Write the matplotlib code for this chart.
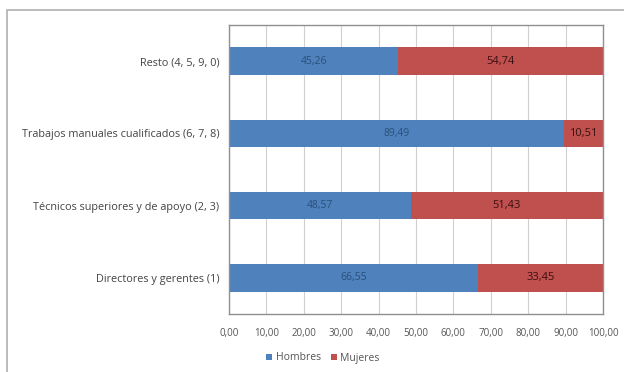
import matplotlib.pyplot as plt
from matplotlib.patches import Rectangle

categorias = ["Directores y gerentes (1)", "Técnicos superiores y de apoyo (2, 3)",
              "Trabajos manuales cualificados (6, 7, 8)", "Resto (4, 5, 9, 0)"]
hombres = [66.55, 48.57, 89.49, 45.26]
mujeres = [33.45, 51.43, 10.51, 54.74]
ticks = [0, 10, 20, 30, 40, 50, 60, 70, 80, 90, 100]

plt.rcParams['font.family'] = ['Open Sans', 'DejaVu Sans']

fig = plt.figure(figsize=(6.24, 3.72), dpi=100)
fig.patches.append(Rectangle((7 / 624, -0.05), 1.1, 1 - 10 / 372 + 0.05,
                             transform=fig.transFigure, fill=False,
                             edgecolor="#b0b0b0", linewidth=1.2))

ax = fig.add_axes([229 / 624, 1 - 314 / 372, 374 / 624, 289 / 372])
y = range(len(categorias))
b1 = ax.barh(y, hombres, height=0.38, color="#4F81BD", label="Hombres")
b2 = ax.barh(y, mujeres, left=hombres, height=0.38, color="#C0504D", label="Mujeres")

for i in y:
    ax.text(hombres[i] / 2, i, f"{hombres[i]:.2f}".replace(".", ","),
            ha="center", va="center", fontsize=7.5, color="#2a4f7a")
    ax.text(hombres[i] + mujeres[i] / 2, i, f"{mujeres[i]:.2f}".replace(".", ","),
            ha="center", va="center", fontsize=8, color="#3a1010")

ax.set_xlim(0, 100)
ax.set_ylim(-0.5, 3.5)
ax.set_xticks(ticks)
ax.set_xticklabels([f"{t:.2f}".replace(".", ",") for t in ticks], fontsize=7, color="#555555")
ax.set_yticks(list(y))
ax.set_yticklabels(categorias, fontsize=7.8, color="#444444")
ax.tick_params(axis="y", length=0, pad=7)
ax.tick_params(axis="x", length=0, pad=10)
ax.grid(axis="x", color="#d0d0d0", linewidth=0.8)
ax.set_axisbelow(True)
for s in ax.spines.values():
    s.set_color("#909090")
    s.set_linewidth(1)

fig.legend(handles=[b1, b2], loc="center", bbox_to_anchor=(323 / 624, 1 - 358 / 372),
           ncol=2, frameon=False, fontsize=7.5, handlelength=0.6, handleheight=0.6,
           handletextpad=0.3, columnspacing=1.0, labelcolor="#555555")

fig.savefig("out.png", dpi=100)
